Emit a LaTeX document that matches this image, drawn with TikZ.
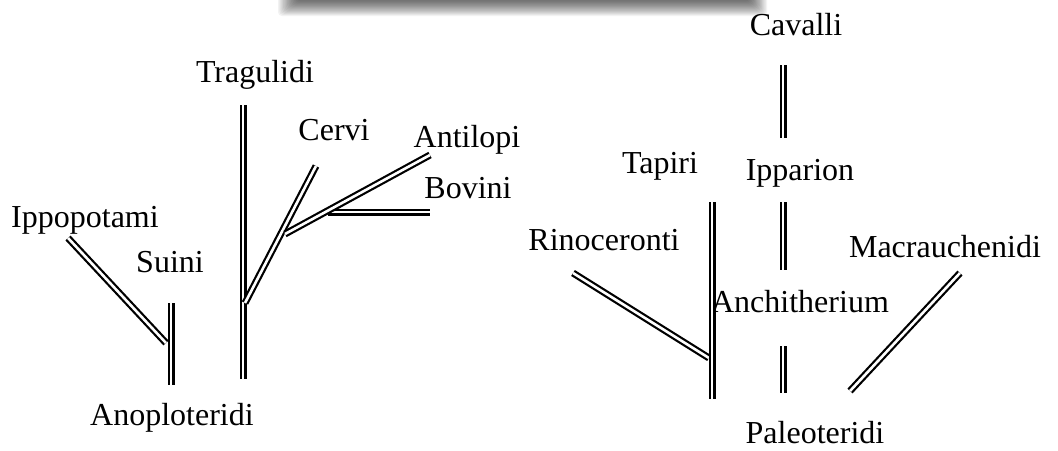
\documentclass[tikz,border=0pt]{standalone}
\usepackage{fontspec}
\setmainfont{Liberation Serif}
\begin{document}
\begin{tikzpicture}[x=1pt,y=-1pt,
  lbl/.style={inner sep=0pt, anchor=base, font=\fontsize{32}{37}\selectfont},
  dl/.style={draw=black, double=white, double distance=2.6pt, line width=2.2pt}]
\useasboundingbox (0,0) rectangle (1058,450);
% shadow of a box above the picture
\foreach \i in {0,...,14}
  \fill[black, opacity=0.05, rounded corners=4pt] (278+\i*1.3,-6) rectangle (767-\i*1.2,16-\i*1.05);
% labels
\node[lbl] (cavalli) at (796,35) {Cavalli};
\node[lbl] (ipparion) at (800,180) {Ipparion};
\node[lbl] (anchitherium) at (800,312) {Anchitherium};
\node[lbl] (paleoteridi) at (815,443) {Paleoteridi};
\node[lbl] (tapiri) at (660,173) {Tapiri};
\node[lbl] (rinoceronti) at (604,250) {Rinoceronti};
\node[lbl] (macrauchenidi) at (945,257) {Macrauchenidi};
\node[lbl] (ippopotami) at (85,227) {Ippopotami};
\node[lbl] (suini) at (170,272) {Suini};
\node[lbl] (anoploteridi) at (172,425) {Anoploteridi};
\node[lbl] (tragulidi) at (255,82) {Tragulidi};
\node[lbl] (cervi) at (334,140) {Cervi};
\node[lbl] (antilopi) at (467,147) {Antilopi};
\node[lbl] (bovini) at (468,198) {Bovini};
% line end points
\coordinate (ip1) at (68,238);   \coordinate (ip2) at (166,343);
\coordinate (su1) at (171,303);  \coordinate (su2) at (171,385);
\coordinate (tr1) at (243,105);  \coordinate (tr2) at (243,379);
\coordinate (ce1) at (245,303);  \coordinate (ce2) at (316,166);
\coordinate (an1) at (285,234);  \coordinate (an2) at (430,155);
\coordinate (bo1) at (328,212);  \coordinate (bo2) at (430,212);
\coordinate (ca1) at (783,65);   \coordinate (ca2) at (783,138);
\coordinate (ia1) at (783,202);  \coordinate (ia2) at (783,270);
\coordinate (ah1) at (783,346);  \coordinate (ah2) at (783,393);
\coordinate (ta1) at (712,202);  \coordinate (ta2) at (712,399);
\coordinate (ri1) at (573,273);  \coordinate (ri2) at (709,358);
\coordinate (ma1) at (960,273);  \coordinate (ma2) at (850,391);
% branches
\draw[dl] (ip1) -- (ip2);
\draw[dl] (su1) -- (su2);
\draw[dl] (tr1) -- (tr2);
\draw[dl] (ce1) -- (ce2);
\draw[dl] (bo1) -- (bo2);
\draw[dl] (an1) -- (an2);
\draw[dl] (ca1) -- (ca2);
\draw[dl] (ia1) -- (ia2);
\draw[dl] (ah1) -- (ah2);
\draw[dl] (ri1) -- (ri2);
\draw[dl] (ta1) -- (ta2);
\draw[dl] (ma1) -- (ma2);
\end{tikzpicture}
\end{document}
